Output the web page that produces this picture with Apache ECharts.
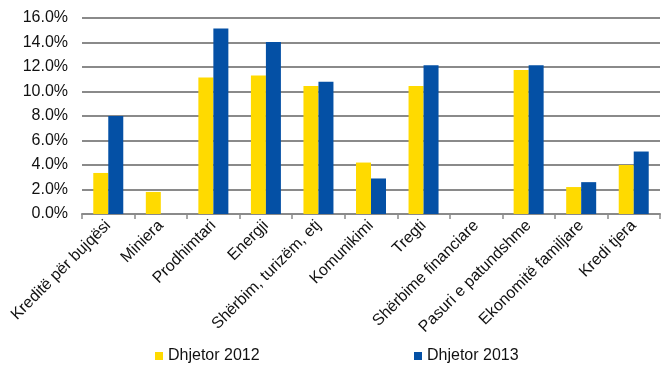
<!DOCTYPE html>
<html>
<head>
<meta charset="utf-8">
<script src="https://cdn.jsdelivr.net/npm/echarts@6/dist/echarts.min.js"></script>
<style>html,body{margin:0;padding:0;background:#fff}#c{width:661px;height:365px}</style>
</head>
<body>
<div id="c"></div>
<script>
var categories = ["Kreditë për bujqësi","Miniera","Prodhimtari","Energji","Shërbim, turizëm, etj","Komunikimi","Tregti","Shërbime financiare","Pasuri e patundshme","Ekonomitë familjare","Kredi tjera"];
var seriesNames = ["Dhjetor 2012","Dhjetor 2013"];
var dec2012 = [3.35, 1.8, 11.15, 11.3, 10.45, 4.2, 10.45, 0, 11.75, 2.2, 4.0];
var dec2013 = [8.0, 0, 15.15, 14.05, 10.8, 2.9, 12.15, 0, 12.15, 2.6, 5.1];
var yTicks = {min: 0, max: 16, interval: 2};

var chart = echarts.init(document.getElementById('c'));
var font = 'Liberation Sans, Arial, sans-serif';
chart.setOption({
  animation: false,
  textStyle: {fontFamily: font},
  grid: {left: 82, right: 1, top: 18, bottom: 151, containLabel: false},
  legend: [
    {data: [seriesNames[0]], left: 150, top: 343, itemWidth: 8, itemHeight: 8, icon: 'rect',
     textStyle: {fontSize: 16, color: '#111', fontFamily: font}},
    {data: [seriesNames[1]], left: 409, top: 343, itemWidth: 8, itemHeight: 8, icon: 'rect',
     textStyle: {fontSize: 16, color: '#111', fontFamily: font}}
  ],
  xAxis: {
    type: 'category', data: categories,
    axisLine: {lineStyle: {color: '#8a8a8a', width: 2}},
    axisTick: {show: true, length: 5, lineStyle: {color: '#8a8a8a', width: 1.5}},
    axisLabel: {rotate: 45, interval: 0, fontSize: 16, color: '#111', margin: 9, fontFamily: font}
  },
  yAxis: {
    type: 'value', min: yTicks.min, max: yTicks.max, interval: yTicks.interval,
    axisLine: {show: false}, axisTick: {show: false},
    splitLine: {lineStyle: {color: '#8a8a8a', width: 2}},
    axisLabel: {fontSize: 16, color: '#111', margin: 14, fontFamily: font,
      formatter: function(v){ return v.toFixed(1) + '%'; }}
  },
  series: [
    {name: seriesNames[0], type: 'bar', data: dec2012, barWidth: 15, barGap: '0%',
     itemStyle: {color: '#FFDA00'}},
    {name: seriesNames[1], type: 'bar', data: dec2013, barWidth: 15,
     itemStyle: {color: '#0450A5'}}
  ]
});
</script>
</body>
</html>
